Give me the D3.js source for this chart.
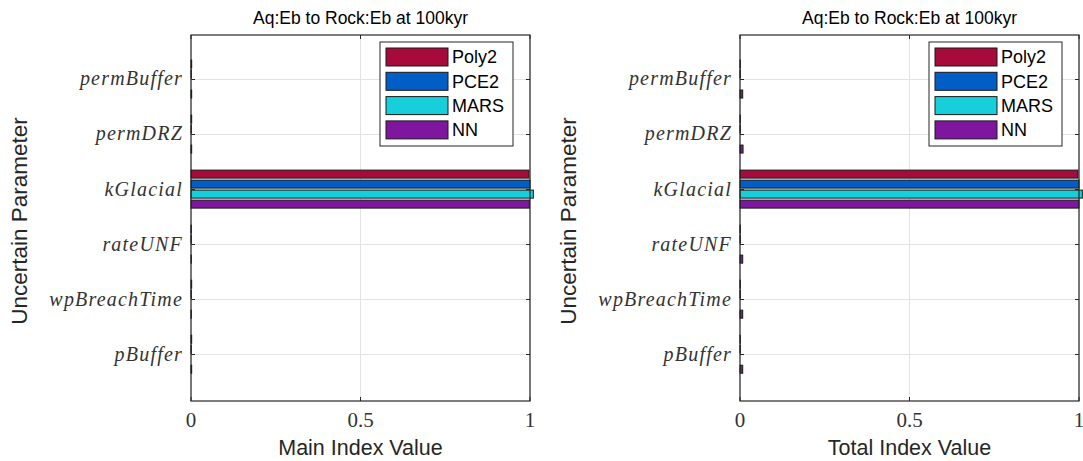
<!DOCTYPE html>
<html>
<head>
<meta charset="utf-8">
<script src="https://cdn.jsdelivr.net/npm/d3@7"></script>
<style>
  body { margin: 0; background: #fff; }
  svg { display: block; }
</style>
</head>
<body>
<script>
// Categories, listed bottom to top like the MATLAB barh
const params = ["pBuffer", "wpBreachTime", "rateUNF", "kGlacial", "permDRZ", "permBuffer"];
const methods = ["Poly2", "PCE2", "MARS", "NN"];
const colors = ["#a60b3c", "#005ec6", "#16cfda", "#7e169f"];
const xTicks = [0, 0.5, 1];

// main (first order) index values
const mainPoly2 = [0.002, 0.002, 0.001, 0.997, 0.002, 0.002];
const mainPCE2 = [0.001, 0.001, 0.001, 1.0, 0.001, 0.001];
const mainMARS = [0.0, 0.0, 0.0, 1.01, 0.0, 0.0];
const mainNN = [0.002, 0.001, 0.001, 0.998, 0.002, 0.002];

// total index values
const totPoly2 = [0.001, 0.001, 0.001, 0.997, 0.001, 0.001];
const totPCE2 = [0.001, 0.001, 0.001, 1.0, 0.001, 0.001];
const totMARS = [0.0, 0.0, 0.0, 1.01, 0.0, 0.0];
const totNN = [0.008, 0.008, 0.008, 1.0, 0.009, 0.008];

const width = 1083;
const height = 461;

const svg = d3
  .select("body")
  .append("svg")
  .attr("width", width)
  .attr("height", height);

function drawPanel(left, title, xLabel, series) {
  const plotW = 339;
  const top = 35;
  const bottom = 401;

  const g = svg.append("g").attr("transform", `translate(${left},0)`);

  const xScale = d3.scaleLinear().domain([0, 1]).range([0, plotW]);
  // category i sits at position i+1, limits a bit outside
  const yScale = d3.scaleLinear().domain([0.15, 6.8]).range([bottom, top]);
  const inner = d3
    .scaleBand()
    .domain(methods)
    .range([-19, 19])
    .paddingInner(0.2);

  // grid lines
  g.selectAll(".xgrid")
    .data(xTicks)
    .enter()
    .append("line")
    .attr("x1", (d) => xScale(d))
    .attr("x2", (d) => xScale(d))
    .attr("y1", top)
    .attr("y2", bottom)
    .attr("stroke", "#e3e3e3")
    .attr("stroke-width", 1);

  g.selectAll(".ygrid")
    .data(params)
    .enter()
    .append("line")
    .attr("x1", 0)
    .attr("x2", plotW)
    .attr("y1", (d, i) => Math.round(yScale(i + 1)) + 0.5)
    .attr("y2", (d, i) => Math.round(yScale(i + 1)) + 0.5)
    .attr("stroke", "#e3e3e3")
    .attr("stroke-width", 1);

  // bars
  const rows = [];
  params.forEach((p, i) => {
    methods.forEach((m, j) => {
      rows.push({ p: p, i: i, m: m, j: j, v: series[j][i] });
    });
  });

  g.selectAll(".bar")
    .data(rows)
    .enter()
    .append("rect")
    .attr("x", xScale(0))
    .attr("y", (d) => yScale(d.i + 1) + inner(d.m))
    .attr("width", (d) => Math.max(0, xScale(d.v) - xScale(0)))
    .attr("height", inner.bandwidth())
    .attr("fill", (d) => colors[d.j])
    .attr("stroke", "#1a1a1a")
    .attr("stroke-width", 1);

  // axes box
  g.append("rect")
    .attr("x", 0)
    .attr("y", top)
    .attr("width", plotW)
    .attr("height", bottom - top)
    .attr("fill", "none")
    .attr("stroke", "#262626")
    .attr("stroke-width", 1.2);

  // inward ticks on all sides
  const tickLen = 4;
  params.forEach((p, i) => {
    const y = Math.round(yScale(i + 1)) + 0.5;
    g.append("line").attr("x1", 0).attr("x2", tickLen).attr("y1", y).attr("y2", y).attr("stroke", "#262626");
    g.append("line").attr("x1", plotW - tickLen).attr("x2", plotW).attr("y1", y).attr("y2", y).attr("stroke", "#262626");
  });
  xTicks.forEach((t) => {
    const x = xScale(t);
    g.append("line").attr("x1", x).attr("x2", x).attr("y1", bottom).attr("y2", bottom - tickLen).attr("stroke", "#262626");
    g.append("line").attr("x1", x).attr("x2", x).attr("y1", top).attr("y2", top + tickLen).attr("stroke", "#262626");
  });

  // y tick labels (latex-style italic)
  g.selectAll(".ylab")
    .data(params)
    .enter()
    .append("text")
    .attr("x", -8)
    .attr("y", (d, i) => yScale(i + 1))
    .attr("dy", "0.32em")
    .attr("text-anchor", "end")
    .attr("font-family", "'Liberation Serif', 'DejaVu Serif', serif")
    .attr("font-style", "italic")
    .attr("font-size", "20px")
    .attr("letter-spacing", "1.2px")
    .attr("fill", "#333")
    .text((d) => d);

  // x tick labels
  g.selectAll(".xlab")
    .data(xTicks)
    .enter()
    .append("text")
    .attr("x", (d) => xScale(d))
    .attr("y", 427)
    .attr("text-anchor", "middle")
    .attr("font-family", "'Liberation Serif', serif")
    .attr("font-size", "21px")
    .attr("fill", "#333")
    .text((d) => d);

  // title
  g.append("text")
    .attr("x", plotW / 2)
    .attr("y", 24)
    .attr("text-anchor", "middle")
    .attr("font-family", "'Liberation Sans', Arial, sans-serif")
    .attr("font-size", "17.5px")
    .attr("fill", "#000")
    .text(title);

  // x label
  g.append("text")
    .attr("x", plotW / 2)
    .attr("y", 455)
    .attr("text-anchor", "middle")
    .attr("font-family", "'Liberation Sans', Arial, sans-serif")
    .attr("font-size", "21.5px")
    .attr("fill", "#262626")
    .text(xLabel);

  // y label
  g.append("text")
    .attr("transform", `translate(${-164},${(top + bottom) / 2 + 3}) rotate(-90)`)
    .attr("text-anchor", "middle")
    .attr("font-family", "'Liberation Sans', Arial, sans-serif")
    .attr("font-size", "22.5px")
    .attr("fill", "#262626")
    .text("Uncertain Parameter");

  // legend
  const legend = g.append("g").attr("transform", `translate(${189},${42})`);
  legend
    .append("rect")
    .attr("x", 0)
    .attr("y", 0)
    .attr("width", 133)
    .attr("height", 104)
    .attr("fill", "#fff")
    .attr("stroke", "#262626")
    .attr("stroke-width", 1);

  legend
    .selectAll(".sw")
    .data(methods)
    .enter()
    .append("rect")
    .attr("x", 6)
    .attr("y", (d, i) => 6 + i * 24.3)
    .attr("width", 62)
    .attr("height", 18)
    .attr("fill", (d, i) => colors[i])
    .attr("stroke", "#1a1a1a")
    .attr("stroke-width", 1);

  legend
    .selectAll(".lt")
    .data(methods)
    .enter()
    .append("text")
    .attr("x", 72)
    .attr("y", (d, i) => 15 + i * 24.3)
    .attr("dy", "0.35em")
    .attr("font-family", "'Liberation Sans', Arial, sans-serif")
    .attr("font-size", "18px")
    .attr("fill", "#000")
    .text((d) => d);
}

drawPanel(191, "Aq:Eb to Rock:Eb at 100kyr", "Main Index Value", [mainPoly2, mainPCE2, mainMARS, mainNN]);
drawPanel(740, "Aq:Eb to Rock:Eb at 100kyr", "Total Index Value", [totPoly2, totPCE2, totMARS, totNN]);
</script>
</body>
</html>
